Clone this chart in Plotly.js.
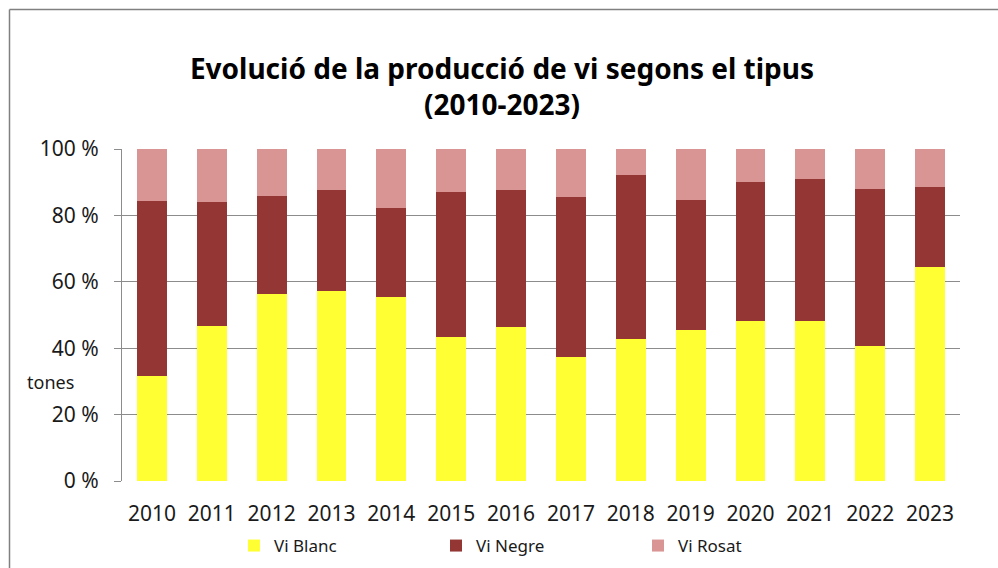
<!DOCTYPE html>
<html>
<head>
<meta charset="utf-8">
<script src="https://cdn.plot.ly/plotly-3.0.1.min.js"></script>
<style>html,body{margin:0;padding:0;background:#fff;}#chart{width:998px;height:568px;}</style>
</head>
<body>
<div id="chart"></div>
<script>
const years = ['2010','2011','2012','2013','2014','2015','2016','2017','2018','2019','2020','2021','2022','2023'];
const viBlanc = [31.7, 46.7, 56.4, 57.2, 55.3, 43.3, 46.3, 37.4, 42.8, 45.5, 48.3, 48.3, 40.6, 64.5];
const viNegre = [52.5, 37.2, 29.3, 30.5, 27.0, 43.8, 41.5, 48.0, 49.3, 39.2, 41.8, 42.6, 47.5, 24.1];
const viRosat = [15.8, 16.1, 14.3, 12.3, 17.7, 12.9, 12.2, 14.6, 7.9, 15.3, 9.9, 9.1, 11.9, 11.4];
const seriesNames = ['Vi Blanc', 'Vi Negre', 'Vi Rosat'];
const seriesColors = ['#FFFF33', '#943634', '#D99594'];
const titleText = 'Evolució de la producció de vi segons el tipus<br>(2010-2023)';
const yLabel = 'tones';

const font = '"Noto Sans", "Open Sans", sans-serif';
const data = [viBlanc, viNegre, viRosat].map((vals, i) => ({
  type: 'bar', x: years, y: vals, name: seriesNames[i],
  marker: {color: seriesColors[i], line: {width: 0}},
  hoverinfo: 'x+y+name'
}));

const L = 122, R = 960, T = 149, B = 481, W = 998, H = 568;
const pw = R - L, ph = B - T;
const px = v => (v - L) / pw;
const py = v => (B - v) / ph;

const layout = {
  width: W, height: H,
  margin: {l: L, r: W - R, t: T, b: H - B, pad: 0, autoexpand: false},
  paper_bgcolor: '#fff', plot_bgcolor: '#fff',
  barmode: 'stack', bargap: 0.5,
  font: {family: font, color: '#1a1a1a'},
  title: {text: titleText, font: {family: font, size: 28, color: '#000', weight: 'bold'},
          x: 0.503, xanchor: 'center', y: 1 - 79/H, yanchor: 'top', yref: 'container'},
  xaxis: {type: 'category', showgrid: false, showline: false, ticks: '',
          tickfont: {size: 21, color: '#1a1a1a'}, ticklabelstandoff: 18, fixedrange: true},
  yaxis: {range: [0, 100], dtick: 20, ticksuffix: ' %', showgrid: true, gridcolor: '#8c8c8c', gridwidth: 1,
          showline: true, linecolor: '#8c8c8c', linewidth: 1, ticks: 'outside', ticklen: 7, tickcolor: '#8c8c8c',
          tickfont: {size: 21, color: '#1a1a1a'}, ticklabelstandoff: 11, zeroline: false, fixedrange: true},
  legend: {orientation: 'h', x: px(234), xanchor: 'left', y: py(546), yanchor: 'middle',
           font: {size: 17, color: '#1a1a1a'}, entrywidth: 157, itemwidth: 30, traceorder: 'normal'},
  annotations: [{text: yLabel, xref: 'paper', yref: 'paper', x: px(25), y: py(382),
                 xanchor: 'left', yanchor: 'middle', showarrow: false, font: {size: 18, color: '#1a1a1a'}}],
  shapes: [
    {type: 'line', xref: 'paper', yref: 'paper', x0: px(9.5), x1: px(9.5), y0: py(9.5), y1: py(H + 5),
     line: {color: '#808080', width: 1.5}},
    {type: 'line', xref: 'paper', yref: 'paper', x0: px(9.5), x1: px(W + 5), y0: py(9.5), y1: py(9.5),
     line: {color: '#808080', width: 1.5}}
  ],
  showlegend: true
};

Plotly.newPlot('chart', data, layout, {staticPlot: true, displayModeBar: false});
</script>
</body>
</html>
